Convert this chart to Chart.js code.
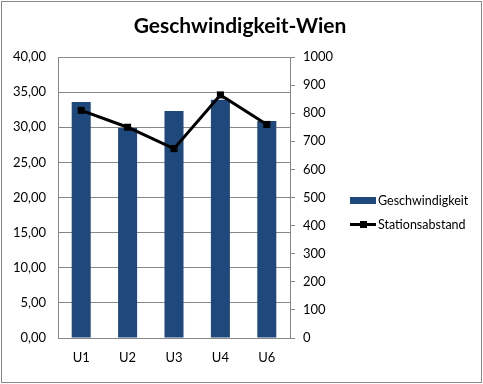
<!DOCTYPE html>
<html>
<head>
<meta charset="utf-8">
<script src="https://cdn.jsdelivr.net/npm/chart.js@4.4.0/dist/chart.umd.min.js"></script>
<style>
html,body{margin:0;padding:0;background:#fff;}
#wrap{position:relative;width:483px;height:384px;}
#frame{position:absolute;left:1px;top:1px;width:479px;height:380px;border:1px solid #888;pointer-events:none;}
canvas{position:absolute;left:0;top:0;}
</style>
</head>
<body>
<div id="wrap"><canvas id="c" width="483" height="384"></canvas><div id="frame"></div></div>
<script>
const title = 'Geschwindigkeit-Wien';
const categories = ['U1', 'U2', 'U3', 'U4', 'U6'];
const speedName = 'Geschwindigkeit';
const speed = [33.6, 29.9, 32.3, 33.9, 30.9];
const distName = 'Stationsabstand';
const distance = [810, 750, 674, 865, 760];

const FONT = 'Lato';
const barColor = '#1F497D';
const gridColor = '#878787';

const extras = {
  id: 'extras',
  afterDraw(chart) {
    const ctx = chart.ctx;
    ctx.save();
    ctx.fillStyle = '#000';
    ctx.font = 'bold 21px ' + FONT;
    ctx.textAlign = 'center';
    ctx.textBaseline = 'alphabetic';
    ctx.fillText(title, 240, 33);
    // legend
    ctx.font = '12.5px ' + FONT;
    ctx.textAlign = 'left';
    ctx.textBaseline = 'middle';
    ctx.fillStyle = barColor;
    ctx.fillRect(350, 197, 26, 7);
    ctx.fillStyle = '#000';
    ctx.fillText(speedName, 378, 201);
    ctx.strokeStyle = '#000';
    ctx.lineWidth = 3;
    ctx.beginPath();
    ctx.moveTo(350, 224.5);
    ctx.lineTo(376, 224.5);
    ctx.stroke();
    ctx.fillRect(360, 221, 7, 7);
    ctx.fillText(distName, 378, 225);
    ctx.restore();
  }
};

new Chart(document.getElementById('c'), {
  type: 'bar',
  data: {
    labels: categories,
    datasets: [
      {
        type: 'line',
        label: distName,
        data: distance,
        yAxisID: 'y2',
        borderColor: '#000',
        backgroundColor: '#000',
        borderWidth: 3,
        pointStyle: 'rect',
        pointRadius: 5,
        pointBorderWidth: 0,
        pointBackgroundColor: '#000',
        tension: 0,
        order: 0
      },
      {
        type: 'bar',
        label: speedName,
        data: speed,
        yAxisID: 'y',
        backgroundColor: barColor,
        borderWidth: 0,
        categoryPercentage: 1,
        barPercentage: 0.41,
        order: 1
      }
    ]
  },
  options: {
    responsive: false,
    animation: false,
    devicePixelRatio: 1,
    layout: { padding: { top: 57, right: 143, bottom: 0, left: 0 } },
    plugins: { legend: { display: false }, title: { display: false }, tooltip: { enabled: false } },
    scales: {
      x: {
        grid: { display: true, drawOnChartArea: false, drawTicks: false, color: 'rgba(0,0,0,0)' },
        border: { display: true, color: gridColor, width: 1 },
        ticks: { color: '#000', font: { family: FONT, size: 13 }, padding: 12 },
        afterFit(s) { s.height = 46; }
      },
      y: {
        position: 'left',
        min: 0, max: 40,
        grid: { color: gridColor, drawTicks: false },
        border: { display: true, color: gridColor },
        ticks: {
          stepSize: 5, color: '#000', font: { family: FONT, size: 13 }, padding: 12,
          callback: v => v.toFixed(2).replace('.', ',')
        },
        afterFit(s) { s.width = 58; }
      },
      y2: {
        position: 'right',
        min: 0, max: 1000,
        grid: { drawOnChartArea: false, drawTicks: true, tickLength: 5, color: gridColor },
        border: { display: true, color: gridColor },
        ticks: {
          stepSize: 100, color: '#000', font: { family: FONT, size: 13 }, padding: 8,
          callback: v => String(v)
        },
        afterFit(s) { s.width = 50; }
      }
    }
  },
  plugins: [extras]
});
</script>
</body>
</html>
